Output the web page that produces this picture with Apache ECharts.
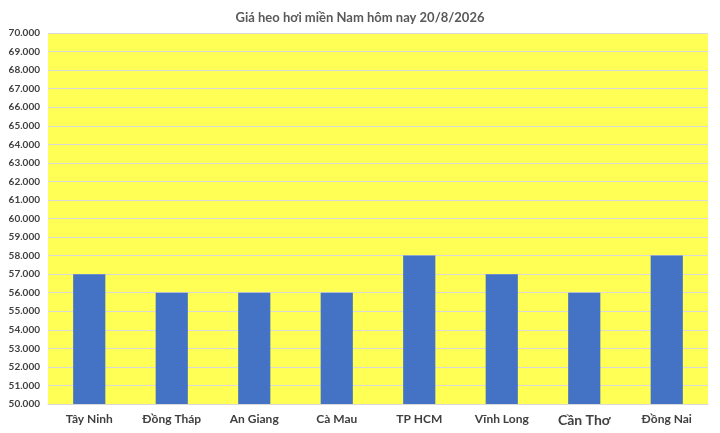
<!DOCTYPE html>
<html><head><meta charset="utf-8">
<script src="https://cdn.jsdelivr.net/npm/echarts@6/dist/echarts.min.js"></script>
<style>html,body{margin:0;padding:0;background:#fff}#c{width:720px;height:433px}</style>
</head><body><div id="c"></div>
<script>
const titleText = 'Giá heo hơi miền Nam hôm nay 20/8/2026';
const categories = ['Tây Ninh','Đồng Tháp','An Giang','Cà Mau','TP HCM','Vĩnh Long','Cần Thơ','Đồng Nai'];
const prices = [57000,56000,56000,56000,58000,57000,56000,58000];
const yMin = 50000, yMax = 70000, yStep = 1000;

const chart = echarts.init(document.getElementById('c'));
chart.setOption({
  animation:false,
  title:{text:titleText,left:'center',top:6,textStyle:{fontFamily:'Lato',fontSize:13,fontWeight:'bold',color:'#595959'}},
  grid:{left:48,right:12,top:33,bottom:29,backgroundColor:'#FFFF55',show:true,borderWidth:0},
  xAxis:{type:'category',data:categories.map(c=>c==='Cần Thơ'?{value:c,textStyle:{fontSize:14}}:c),
    axisLine:{show:true,lineStyle:{color:'#d9d9d9'}},axisTick:{show:false},
    axisLabel:{fontFamily:'Lato',fontSize:12,fontWeight:'bold',color:'#404040',margin:9}},
  yAxis:{type:'value',min:yMin,max:yMax,interval:yStep,
    axisLine:{show:false},axisTick:{show:false},
    splitLine:{lineStyle:{color:'#d9d9d9',width:1}},
    axisLabel:{fontFamily:'Lato',fontSize:10,fontWeight:'bold',color:'#404040',margin:8,
      formatter:v=>v.toLocaleString('de-DE',{minimumFractionDigits:0})}},
  series:[{type:'bar',data:prices,barWidth:'39%',itemStyle:{color:'#4472C4'}}]
});
</script></body></html>
